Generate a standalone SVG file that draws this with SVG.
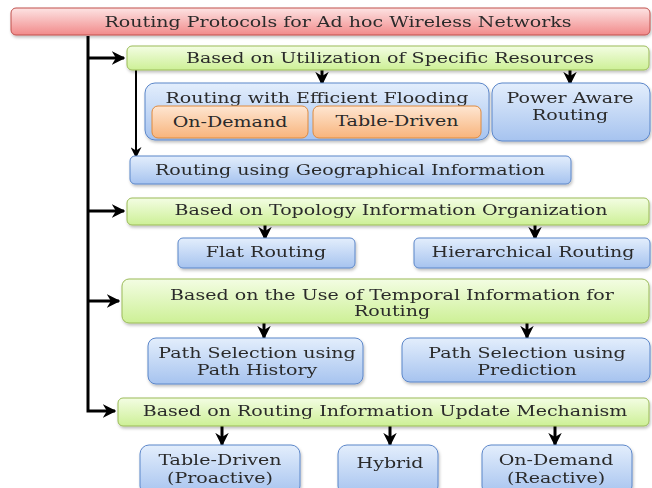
<svg xmlns="http://www.w3.org/2000/svg" width="652" height="488" viewBox="0 0 652 488">
<defs>
<linearGradient id="gRed" x1="0" y1="0" x2="0" y2="1"><stop offset="0" stop-color="#fde3e3"/><stop offset="1" stop-color="#f18a8a"/></linearGradient>
<linearGradient id="gGreen" x1="0" y1="0" x2="0" y2="1"><stop offset="0" stop-color="#f3fde3"/><stop offset="1" stop-color="#cdf096"/></linearGradient>
<linearGradient id="gBlue" x1="0" y1="0" x2="0" y2="1"><stop offset="0" stop-color="#e3eefc"/><stop offset="1" stop-color="#a6c3ef"/></linearGradient>
<linearGradient id="gOrange" x1="0" y1="0" x2="0" y2="1"><stop offset="0" stop-color="#fee6d2"/><stop offset="1" stop-color="#f8b47c"/></linearGradient>
<filter id="sh" x="-5%" y="-20%" width="110%" height="150%"><feDropShadow dx="1" dy="2" stdDeviation="1.5" flood-color="#000" flood-opacity="0.25"/></filter>
<marker id="ah" viewBox="0 0 10 10" refX="9" refY="5" markerWidth="4.5" markerHeight="4.5" orient="auto" markerUnits="strokeWidth">
<path d="M0,0 L10,5 L0,10 L3,5 Z" fill="#000"/>
</marker>
<marker id="ah2" viewBox="0 0 10 10" refX="9" refY="5" markerWidth="5.5" markerHeight="5.5" orient="auto" markerUnits="strokeWidth">
<path d="M0,0 L10,5 L0,10 L3,5 Z" fill="#000"/>
</marker>
</defs>
<style>
.red{fill:url(#gRed);stroke:#c0504d;stroke-width:1}
.green{fill:url(#gGreen);stroke:#9bbb59;stroke-width:1}
.blue{fill:url(#gBlue);stroke:#5b86c9;stroke-width:1}
.orange{fill:url(#gOrange);stroke:#e08a3c;stroke-width:1}
text{font-family:"DejaVu Serif","Liberation Serif",serif;font-size:15px;fill:#2a2a2a;text-anchor:middle;dominant-baseline:central}
.c{fill:none;stroke:#000;stroke-width:3}
.c2{fill:none;stroke:#000;stroke-width:2}
</style>
<rect width="652" height="488" fill="#fff"/>
<g id="connectors">
<path class="c" d="M88,36 V411 H115" marker-end="url(#ah)"/>
<path class="c" d="M88,58 H124" marker-end="url(#ah)"/>
<path class="c" d="M88,211 H124" marker-end="url(#ah)"/>
<path class="c" d="M88,301 H119" marker-end="url(#ah)"/>
<path class="c2" d="M136,70 V157" marker-end="url(#ah2)"/>
<path class="c" d="M322,70 V84" marker-end="url(#ah)"/>
<path class="c" d="M570,70 V84" marker-end="url(#ah)"/>
<path class="c" d="M265,225 V239" marker-end="url(#ah)"/>
<path class="c" d="M535,225 V239" marker-end="url(#ah)"/>
<path class="c" d="M264,323 V338" marker-end="url(#ah)"/>
<path class="c" d="M527,323 V338" marker-end="url(#ah)"/>
<path class="c" d="M222,426 V445" marker-end="url(#ah)"/>
<path class="c" d="M390,426 V445" marker-end="url(#ah)"/>
<path class="c" d="M555,426 V445" marker-end="url(#ah)"/>
</g>
<g id="title" filter="url(#sh)"><rect class="red" x="11" y="8" width="639" height="27" rx="5"/><text transform="translate(338,22) scale(1.27,1)">Routing Protocols for Ad hoc Wireless Networks</text></g>
<g id="utilization" filter="url(#sh)"><rect class="green" x="127" y="46" width="522" height="24" rx="5"/><text transform="translate(390,58) scale(1.27,1)">Based on Utilization of Specific Resources</text></g>
<g id="flooding" filter="url(#sh)"><rect class="blue" x="145" y="83" width="344" height="57" rx="10"/><text transform="translate(317,98) scale(1.27,1)">Routing with Efficient Flooding</text></g>
<g id="ondemand1"><rect class="orange" x="152" y="106" width="156" height="32" rx="6"/><text transform="translate(230,122) scale(1.27,1)">On-Demand</text></g>
<g id="tabledriven1"><rect class="orange" x="313" y="106" width="168" height="32" rx="6"/><text transform="translate(397,121) scale(1.27,1)">Table-Driven</text></g>
<g id="power" filter="url(#sh)"><rect class="blue" x="492" y="83" width="158" height="58" rx="10"/><text transform="translate(570,98) scale(1.27,1)">Power Aware</text><text transform="translate(570,115) scale(1.27,1)">Routing</text></g>
<g id="geo" filter="url(#sh)"><rect class="blue" x="130" y="156" width="441" height="28" rx="5"/><text transform="translate(350,170) scale(1.27,1)">Routing using Geographical Information</text></g>
<g id="topology" filter="url(#sh)"><rect class="green" x="127" y="198" width="522" height="27" rx="5"/><text transform="translate(391,210) scale(1.27,1)">Based on Topology Information Organization</text></g>
<g id="flat" filter="url(#sh)"><rect class="blue" x="178" y="238" width="177" height="30" rx="5"/><text transform="translate(266,252) scale(1.27,1)">Flat Routing</text></g>
<g id="hier" filter="url(#sh)"><rect class="blue" x="414" y="238" width="236" height="30" rx="5"/><text transform="translate(533,252) scale(1.27,1)">Hierarchical Routing</text></g>
<g id="temporal" filter="url(#sh)"><rect class="green" x="122" y="279" width="527" height="44" rx="7"/><text transform="translate(392,295) scale(1.27,1)">Based on the Use of Temporal Information for</text><text transform="translate(392,311) scale(1.27,1)">Routing</text></g>
<g id="history" filter="url(#sh)"><rect class="blue" x="148" y="338" width="215" height="46" rx="8"/><text transform="translate(257,353) scale(1.27,1)">Path Selection using</text><text transform="translate(257,370) scale(1.27,1)">Path History</text></g>
<g id="prediction" filter="url(#sh)"><rect class="blue" x="402" y="338" width="248" height="44" rx="8"/><text transform="translate(527,353) scale(1.27,1)">Path Selection using</text><text transform="translate(527,370) scale(1.27,1)">Prediction</text></g>
<g id="update" filter="url(#sh)"><rect class="green" x="118" y="398" width="531" height="28" rx="5"/><text transform="translate(385,411) scale(1.27,1)">Based on Routing Information Update Mechanism</text></g>
<g id="proactive" filter="url(#sh)"><rect class="blue" x="140" y="445" width="160" height="50" rx="9"/><text transform="translate(220,460) scale(1.27,1)">Table-Driven</text><text transform="translate(220,478) scale(1.27,1)">(Proactive)</text></g>
<g id="hybrid" filter="url(#sh)"><rect class="blue" x="338" y="445" width="100" height="50" rx="9"/><text transform="translate(390,463) scale(1.27,1)">Hybrid</text></g>
<g id="reactive" filter="url(#sh)"><rect class="blue" x="482" y="445" width="150" height="50" rx="9"/><text transform="translate(556,460) scale(1.27,1)">On-Demand</text><text transform="translate(556,478) scale(1.27,1)">(Reactive)</text></g>
</svg>
